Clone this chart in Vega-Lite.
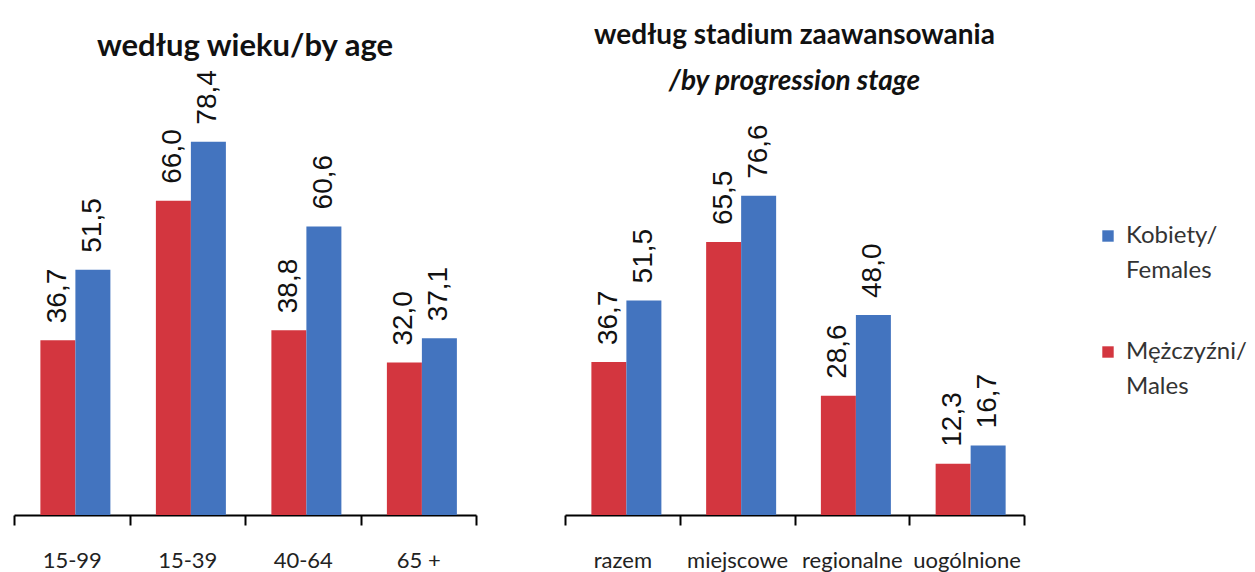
{
  "$schema": "https://vega.github.io/schema/vega-lite/v6.json",
  "padding": {"left": 13, "top": 22, "right": 5, "bottom": 5},
  "background": "white",
  "datasets": {
    "age": [
      {"cat": "15-99", "sex": "Mężczyźni/ Males", "value": 36.7},
      {"cat": "15-99", "sex": "Kobiety/ Females", "value": 51.5},
      {"cat": "15-39", "sex": "Mężczyźni/ Males", "value": 66.0},
      {"cat": "15-39", "sex": "Kobiety/ Females", "value": 78.4},
      {"cat": "40-64", "sex": "Mężczyźni/ Males", "value": 38.8},
      {"cat": "40-64", "sex": "Kobiety/ Females", "value": 60.6},
      {"cat": "65 +", "sex": "Mężczyźni/ Males", "value": 32.0},
      {"cat": "65 +", "sex": "Kobiety/ Females", "value": 37.1}
    ],
    "stage": [
      {"cat": "razem", "sex": "Mężczyźni/ Males", "value": 36.7},
      {"cat": "razem", "sex": "Kobiety/ Females", "value": 51.5},
      {"cat": "miejscowe", "sex": "Mężczyźni/ Males", "value": 65.5},
      {"cat": "miejscowe", "sex": "Kobiety/ Females", "value": 76.6},
      {"cat": "regionalne", "sex": "Mężczyźni/ Males", "value": 28.6},
      {"cat": "regionalne", "sex": "Kobiety/ Females", "value": 48.0},
      {"cat": "uogólnione", "sex": "Mężczyźni/ Males", "value": 12.3},
      {"cat": "uogólnione", "sex": "Kobiety/ Females", "value": 16.7}
    ]
  },
  "config": {
    "view": {"stroke": null},
    "locale": {"number": {"decimal": ",", "thousands": " ", "grouping": [3], "currency": ["", " zł"]}},
    "concat": {"spacing": 89},
    "axisX": {
      "title": null, "labelAngle": 0, "tickBand": "extent",
      "domainColor": "#000", "domainWidth": 2, "tickColor": "#000", "tickWidth": 2, "tickSize": 10,
      "labelFont": "Lato", "labelFontSize": 22, "labelColor": "#222", "labelPadding": 25
    },
    "title": {"font": "Lato", "fontSize": 28, "fontWeight": "bold", "color": "#111", "anchor": "middle",
      "subtitleFont": "Lato", "subtitleFontSize": 28, "subtitleFontWeight": "bold", "subtitleFontStyle": "italic", "subtitleColor": "#111"},
    "legend": {"labelFont": "Lato", "labelFontSize": 24, "labelColor": "#333", "symbolType": "square", "symbolSize": 130, "symbolStrokeWidth": 0, "rowPadding": 57, "labelOffset": 6}
  },
  "bounds": "flush",
  "hconcat": [
    {
      "width": 462, "height": 400,
      "title": {"text": "według wieku/by age", "offset": 7, "fontSize": 31},
      "data": {"name": "age"},
      "encoding": {
        "x": {"field": "cat", "type": "nominal", "sort": null, "scale": {"paddingInner": 0, "paddingOuter": 0}},
        "xOffset": {"field": "sex", "type": "nominal", "sort": ["Mężczyźni/ Males", "Kobiety/ Females"], "scale": {"paddingInner": 0, "paddingOuter": 0.65, "align": 0.58}},
        "y": {"field": "value", "type": "quantitative", "scale": {"domain": [0, 84], "nice": false}, "axis": null}
      },
      "layer": [
        {"mark": {"type": "bar"},
         "encoding": {"color": {"field": "sex", "type": "nominal",
           "scale": {"domain": ["Kobiety/ Females", "Mężczyźni/ Males"], "range": ["#4374BF", "#D3363F"]},
           "legend": {"title": null, "labelExpr": "split(datum.label, ' ')", "orient": "none", "legendX": 1082, "legendY": 109,
             "encode": {"labels": {"update": {"lineHeight": {"value": 35}}}}}}}},
        {"mark": {"type": "text", "angle": 270, "align": "left", "baseline": "middle", "dx": 17, "font": "Liberation Sans", "fontSize": 28, "color": "#111"},
         "encoding": {"text": {"field": "value", "type": "quantitative", "format": ".1f"}}}
      ]
    },
    {
      "width": 459, "height": 400,
      "title": {"text": "według stadium zaawansowania", "subtitle": "/by progression stage", "subtitlePadding": 18, "offset": 19},
      "data": {"name": "stage"},
      "encoding": {
        "x": {"field": "cat", "type": "nominal", "sort": null, "scale": {"paddingInner": 0, "paddingOuter": 0}},
        "xOffset": {"field": "sex", "type": "nominal", "sort": ["Mężczyźni/ Males", "Kobiety/ Females"], "scale": {"paddingInner": 0, "paddingOuter": 0.74}},
        "y": {"field": "value", "type": "quantitative", "scale": {"domain": [0, 96], "nice": false}, "axis": null}
      },
      "layer": [
        {"mark": {"type": "bar"},
         "encoding": {"color": {"field": "sex", "type": "nominal"}}},
        {"mark": {"type": "text", "angle": 270, "align": "left", "baseline": "middle", "dx": 17, "font": "Liberation Sans", "fontSize": 28, "color": "#111"},
         "encoding": {"text": {"field": "value", "type": "quantitative", "format": ".1f"}}}
      ]
    }
  ]
}
